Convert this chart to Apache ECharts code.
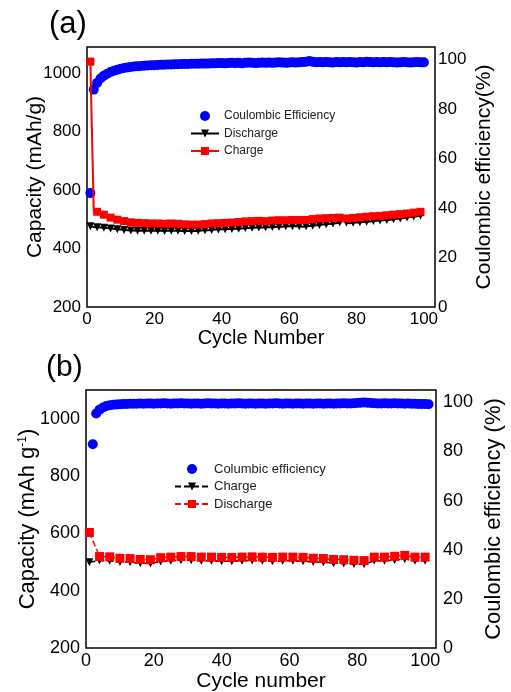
<!DOCTYPE html>
<html>
<head>
<meta charset="utf-8">
<script src="https://cdn.jsdelivr.net/npm/echarts@6/dist/echarts.min.js"></script>
<style>
html,body{margin:0;padding:0;background:#fff;}
#chart{width:511px;height:692px;}
</style>
</head>
<body>
<div id="chart"></div>
<script>
// ---------- Panel (a) data: cycles 1..100 ----------
const chargeA = [1040,530,526,520,516,510,506,502,499,496, 494,492,490,489,488,487,487,486,486,487,
  486,485,485,486,486,486,485,484,483,482, 482,481,482,483,484,485,486,486,487,487,
  488,488,489,490,491,492,493,493,494,495, 495,494,494,495,496,496,497,497,497,498,
  498,499,498,497,498,500,501,502,503,504, 504,505,505,506,506,null,503,504,505,506,
  507,508,509,510,511,512,512,513,514,515, 516,517,518,519,520,521,523,524,526,528];
const dischargeA = [476,474,473,472,471,470,469,468,466,465, 464,463,462,462,461,461,461,461,461,462,
  461,461,460,461,461,461,461,460,460,460, 460,460,461,462,463,463,464,465,465,466,
  466,467,467,468,468,469,470,470,471,472, 472,472,473,473,474,474,475,475,476,476,
  476,477,476,475,476,477,478,480,481,482, 483,484,486,487,489,498,488,487,488,489,
  490,491,492,493,494,495,496,497,498,499, 500,502,503,505,506,508,510,511,513,515];
const ceA = [46,87.8,90.5,92.3,93.4,94.2,94.9,95.4,95.8,96.2, 96.5,96.7,96.9,97.1,97.2,97.3,97.4,97.5,97.6,97.6,
  97.7,97.8,97.8,97.9,97.9,98.0,98.0,98.1,98.1,98.1, 98.2,98.2,98.2,98.3,98.3,98.3,98.4,98.4,98.5,98.5,
  98.4,98.5,98.6,98.5,98.6,98.4,98.6,98.7,98.6,98.5, 98.6,98.7,98.6,98.7,98.6,98.7,98.8,98.7,98.6,98.7,
  98.8,98.7,98.8,98.9,99.0,99.3,99.0,98.8,98.9,98.8, 98.9,98.8,98.7,98.9,98.8,98.9,98.8,98.9,98.8,98.7,
  98.9,98.8,99.0,98.9,98.8,98.9,98.8,98.9,98.8,98.9, 98.8,98.7,98.8,98.9,98.8,98.7,98.8,98.9,98.8,98.8];

// ---------- Panel (b) data ----------
const cyclesB = [1,4,7,10,13,16,19,22,25,28,31,34,37,40,43,46,49,52,55,58,61,64,67,70,73,76,79,82,85,88,91,94,97,100];
const dischargeB = [603,519,518,513,512,509,508,515,517,519, 519,517,517,516,516,517,518,517,516,517,
  517,516,513,512,509,508,506,505,517,517, 520,523,517,517];
const chargeB = [499,505,504,500,499,496,495,502,504,506, 506,504,504,503,503,504,505,504,503,504,
  504,503,500,499,496,495,493,492,504,504, 507,510,504,504];
// CE from cycle 2 to 101
const ceB = [82.9,95.4,97.0,97.9,98.5,98.8,99.0,99.1,99.2,99.3, 99.3,99.4,99.4,99.4,99.5,99.4,99.5,99.5,99.4,99.5,
  99.5,99.6,99.5,99.4,99.5,99.5,99.6,99.5,99.5,99.4, 99.5,99.5,99.4,99.5,99.6,99.5,99.5,99.4,99.5,99.5,
  99.4,99.5,99.5,99.6,99.5,99.4,99.5,99.5,99.4,99.5, 99.5,99.4,99.5,99.5,99.6,99.5,99.4,99.5,99.5,99.4,
  99.5,99.5,99.4,99.5,99.5,99.4,99.5,99.5,99.4,99.5, 99.5,99.4,99.5,99.5,99.6,99.5,99.5,99.6,99.7,99.8,
  99.9,99.8,99.7,99.6,99.5,99.5,99.6,99.5,99.5,99.6, 99.5,99.5,99.4,99.5,99.4,99.4,99.3,99.3,99.3,99.2];

const capTicks = [200,400,600,800,1000];
const ceTicks = [0,20,40,60,80,100];
const cycTicks = [0,20,40,60,80,100];

const FONT = '"Liberation Sans", Arial, sans-serif';
const chart = echarts.init(document.getElementById('chart'), null, {renderer:'canvas'});

function fmt(list){ return v => (list.indexOf(Math.round(v*1000)/1000) >= 0 ? String(v) : ''); }
function xAx(grid, max, fs, nm, gap){
  return {gridIndex:grid, type:'value', min:0, max:max, interval:20,
    axisLine:{show:false}, axisTick:{show:false}, splitLine:{show:false},
    axisLabel:{formatter:fmt(cycTicks), fontSize:fs, fontFamily:FONT, color:'#000', margin:4},
    name:nm, nameLocation:'middle', nameGap:gap, nameMoveOverlap:false,
    nameTextStyle:{fontSize:fs+3, fontFamily:FONT, color:'#000'}};
}
function yAx(grid, pos, min, max, interval, ticks, fs, nm, gap, nfs, margin, rich){
  return {gridIndex:grid, type:'value', position:pos, min:min, max:max, interval:interval,
    axisLine:{show:false}, axisTick:{show:false}, splitLine:{show:false},
    axisLabel:{formatter:fmt(ticks), fontSize:fs, fontFamily:FONT, color:'#000', margin:margin},
    name:nm, nameLocation:'middle', nameGap:gap, nameRotate:90, nameMoveOverlap:false,
    nameTextStyle:{fontSize:nfs, fontFamily:FONT, color:'#000', rich:rich}};
}

const option = {
  animation:false,
  backgroundColor:'#fff',
  title:[
    {text:'(a)', left:49, top:9, padding:0, textStyle:{fontSize:31, fontWeight:'normal', fontFamily:FONT, color:'#000'}},
    {text:'(b)', left:46, top:353, padding:0, textStyle:{fontSize:30, fontWeight:'normal', fontFamily:FONT, color:'#000'}}
  ],
  grid:[
    {left:87, top:47, width:348, height:260, show:true, borderColor:'#000', borderWidth:1.5, containLabel:false, outerBoundsMode:'none'},
    {left:86, top:390, width:350, height:258, show:true, borderColor:'#000', borderWidth:1.5, containLabel:false, outerBoundsMode:'none'}
  ],
  xAxis:[ xAx(0, 103.3, 17, 'Cycle Number', 21), xAx(1, 103.2, 18, 'Cycle number', 23) ],
  yAxis:[
    yAx(0, 'left', 200, 1090, 200, capTicks, 17, 'Capacity (mAh/g)', 41, 21, 6),
    yAx(0, 'right', 0, 105, 20, ceTicks, 17, 'Coulombic efficiency(%)', 39, 21, 3),
    yAx(1, 'left', 200, 1100, 200, capTicks, 18, 'Capacity (mAh g{sup|-1})', 47, 22, 6,
        {sup:{fontSize:12, fontFamily:FONT, color:'#000', verticalAlign:'top'}}),
    yAx(1, 'right', 0, 105, 20, ceTicks, 18, 'Coulombic efficiency (%)', 47, 22, 7)
  ],
  legend:[
    {data:['Coulombic Efficiency','Discharge','Charge'], orient:'vertical', left:190, top:109,
     itemWidth:28, itemHeight:10, itemGap:3.5, padding:0, selectedMode:false,
     textStyle:{fontSize:12, lineHeight:14, fontFamily:FONT, color:'#222'}},
    {data:['Columbic efficiency','Charge ','Discharge '], orient:'vertical', left:174, top:462,
     itemWidth:34, itemHeight:10, itemGap:3.5, padding:0, selectedMode:false,
     textStyle:{fontSize:13, lineHeight:14, fontFamily:FONT, color:'#222'}}
  ],
  series:[
    {name:'Discharge', type:'line', xAxisIndex:0, yAxisIndex:0,
     data:dischargeA.map((v,i)=>[i+1,v]), symbol:'triangle', symbolRotate:180,
     symbolSize:(v,p)=> (p.dataIndex%2===0 ? 8 : 0),
     itemStyle:{color:'#000'}, lineStyle:{color:'#000', width:2}},
    {name:'Charge', type:'line', xAxisIndex:0, yAxisIndex:0, connectNulls:false,
     data:chargeA.map((v,i)=>[i+1,v]), symbol:'rect',
     symbolSize:(v,p)=> (p.dataIndex%2===0 ? 8 : 0),
     itemStyle:{color:'#ff0000'}, lineStyle:{color:'#ff0000', width:2}},
    {name:'Coulombic Efficiency', type:'scatter', xAxisIndex:0, yAxisIndex:1,
     data:ceA.map((v,i)=>[i+1,v]), symbol:'circle', symbolSize:10,
     itemStyle:{color:'#0000ff', opacity:1}},

    {name:'Charge ', type:'line', xAxisIndex:1, yAxisIndex:2,
     data:cyclesB.map((c,i)=>[c, chargeB[i]]), symbol:'triangle', symbolRotate:180, symbolSize:8,
     itemStyle:{color:'#000'}, lineStyle:{color:'#000', width:1.5, type:[6,3]}},
    {name:'Discharge ', type:'line', xAxisIndex:1, yAxisIndex:2,
     data:cyclesB.map((c,i)=>[c, dischargeB[i]]), symbol:'rect', symbolSize:9,
     itemStyle:{color:'#ff0000'}, lineStyle:{color:'#ff0000', width:1.5, type:[6,3]}},
    {name:'Columbic efficiency', type:'scatter', xAxisIndex:1, yAxisIndex:3,
     data:ceB.map((v,i)=>[i+2,v]), symbol:'circle', symbolSize:10,
     itemStyle:{color:'#0000ff', opacity:1}}
  ]
};
chart.setOption(option);
</script>
</body>
</html>
